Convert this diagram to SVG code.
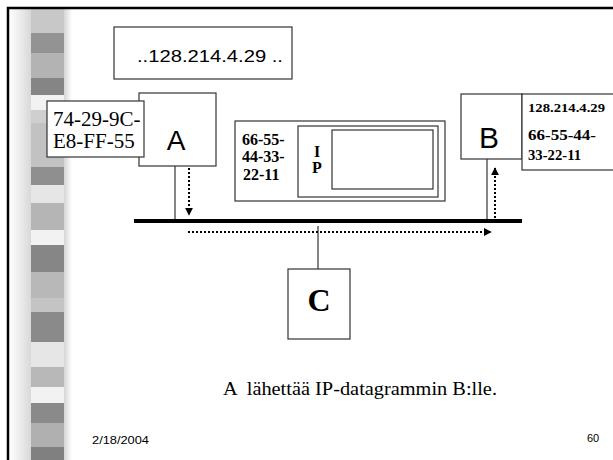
<svg xmlns="http://www.w3.org/2000/svg" width="613" height="460" viewBox="0 0 613 460">
<defs>
<linearGradient id="lg" x1="0" y1="0" x2="1" y2="0"><stop offset="0" stop-color="#ffffff"/><stop offset="1" stop-color="#d8d8d8"/></linearGradient>
<linearGradient id="sh" x1="0" y1="0" x2="1" y2="0"><stop offset="0" stop-color="#d0d0d0"/><stop offset="1" stop-color="#ffffff"/></linearGradient>
<marker id="ah" viewBox="0 0 10 10" refX="9" refY="5" markerWidth="4" markerHeight="4" orient="auto" markerUnits="strokeWidth"><path d="M0,0 L10,5 L0,10 z" fill="#000"/></marker>
</defs>
<style>
.box{fill:#fff;stroke:#333;stroke-width:1.2}
.arial{font-family:"Liberation Sans",Arial,sans-serif;fill:#000}
.times{font-family:"Liberation Serif","Times New Roman",serif;fill:#000}
.b{font-weight:bold}
.dot{stroke:#000;stroke-width:2;stroke-dasharray:2,2;fill:none}
.ln{stroke:#333;stroke-width:1.2;fill:none}
</style>
<rect width="613" height="460" fill="#fff"/>
<g id="strip">
<rect x="9" y="9" width="22" height="451" fill="url(#lg)"/>
<rect x="63" y="9" width="9" height="451" fill="url(#sh)"/>
<rect x="31" y="9" width="33" height="24" fill="#c8c8c8"/>
<rect x="31" y="33" width="33" height="20" fill="#939393"/>
<rect x="31" y="53" width="33" height="25" fill="#b3b3b3"/>
<rect x="31" y="78" width="33" height="17" fill="#858585"/>
<rect x="31" y="95" width="33" height="15" fill="#f2f2f2"/>
<rect x="31" y="110" width="33" height="13" fill="#cfcfcf"/>
<rect x="31" y="123" width="33" height="44" fill="#c2c2c2"/>
<rect x="31" y="167" width="33" height="18" fill="#8f8f8f"/>
<rect x="31" y="185" width="33" height="18" fill="#e6e6e6"/>
<rect x="31" y="203" width="33" height="27" fill="#b5b5b5"/>
<rect x="31" y="230" width="33" height="15" fill="#f2f2f2"/>
<rect x="31" y="245" width="33" height="27" fill="#868686"/>
<rect x="31" y="272" width="33" height="26" fill="#b8b8b8"/>
<rect x="31" y="298" width="33" height="14" fill="#c4c4c4"/>
<rect x="31" y="312" width="33" height="30" fill="#8a8a8a"/>
<rect x="31" y="342" width="33" height="25" fill="#e6e6e6"/>
<rect x="31" y="367" width="33" height="20" fill="#b8b8b8"/>
<rect x="31" y="387" width="33" height="16" fill="#f2f2f2"/>
<rect x="31" y="403" width="33" height="20" fill="#8a8a8a"/>
<rect x="31" y="423" width="33" height="24" fill="#b0b0b0"/>
<rect x="31" y="447" width="33" height="13" fill="#808080"/>
</g>
<path d="M8,460 V8 H613" fill="none" stroke="#000" stroke-width="2.5"/>
<g id="connectors">
<line x1="134" y1="221" x2="522" y2="221" stroke="#000" stroke-width="4"/>
<line class="ln" x1="175" y1="166" x2="175" y2="219"/>
<line class="ln" x1="487" y1="159" x2="487" y2="219"/>
<line class="ln" x1="318" y1="226" x2="318" y2="269"/>
<line class="dot" x1="189" y1="168" x2="189" y2="215" marker-end="url(#ah)"/>
<line class="dot" x1="495" y1="218" x2="495" y2="168" marker-end="url(#ah)"/>
<line class="dot" x1="188" y1="232" x2="491" y2="232" marker-end="url(#ah)"/>
</g>
<g id="ipaddr">
<rect class="box" x="114" y="27" width="178" height="52"/>
<text class="arial" x="137" y="62" font-size="17" textLength="146" lengthAdjust="spacingAndGlyphs">..128.214.4.29 ..</text>
</g>
<g id="nodeA">
<rect class="box" x="139" y="93" width="77" height="73"/>
<text class="arial" x="176" y="150" font-size="28" text-anchor="middle">A</text>
</g>
<g id="macA">
<rect class="box" x="47" y="101" width="97" height="56"/>
<text class="times" x="53" y="126" font-size="21">74-29-9C-</text>
<text class="times" x="53" y="148" font-size="21">E8-FF-55</text>
</g>
<g id="frame">
<rect class="box" x="235" y="121" width="210" height="80"/>
<text class="times b" x="242" y="145" font-size="16">66-55-</text>
<text class="times b" x="242" y="162" font-size="16">44-33-</text>
<text class="times b" x="243" y="180" font-size="16">22-11</text>
<rect class="box" x="298" y="126" width="140" height="71"/>
<text class="times b" x="314" y="157" font-size="16">I</text>
<text class="times b" x="312" y="173" font-size="16">P</text>
<rect class="box" x="332" y="130" width="101" height="59"/>
</g>
<g id="nodeB">
<rect class="box" x="461" y="94" width="61" height="65"/>
<text class="arial" x="489" y="148" font-size="30" text-anchor="middle">B</text>
</g>
<g id="infoB">
<rect class="box" x="522" y="94" width="95" height="76"/>
<text class="times b" x="528" y="112" font-size="13" textLength="77" lengthAdjust="spacingAndGlyphs">128.214.4.29</text>
<text class="times b" x="528" y="140" font-size="15" textLength="68" lengthAdjust="spacingAndGlyphs">66-55-44-</text>
<text class="times b" x="528" y="160" font-size="15" textLength="53" lengthAdjust="spacingAndGlyphs">33-22-11</text>
</g>
<g id="nodeC">
<rect class="box" x="288" y="269" width="62" height="70"/>
<text class="times b" x="319" y="311" font-size="32" text-anchor="middle">C</text>
</g>
<text class="times" x="223" y="395" font-size="18" textLength="274" lengthAdjust="spacingAndGlyphs" xml:space="preserve">A  lähettää IP-datagrammin B:lle.</text>
<text class="arial" x="92" y="444" font-size="11" textLength="57" lengthAdjust="spacingAndGlyphs">2/18/2004</text>
<text class="arial" x="587" y="442" font-size="11">60</text>
</svg>
